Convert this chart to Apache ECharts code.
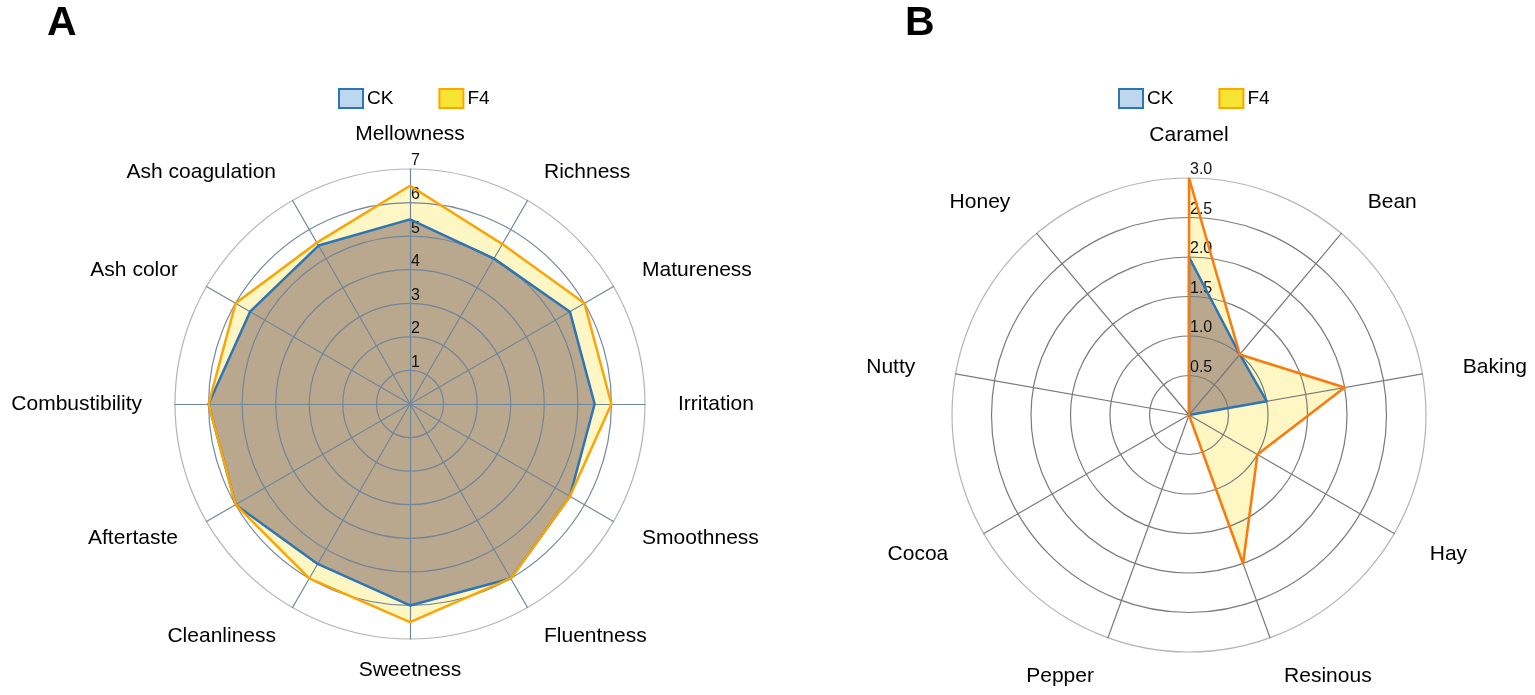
<!DOCTYPE html>
<html><head><meta charset="utf-8">
<script src="https://cdn.jsdelivr.net/npm/echarts@6/dist/echarts.min.js"></script>
<style>html,body{margin:0;padding:0;background:#fff}#c{width:1535px;height:695px}</style>
</head><body><div id="c"></div>
<script>
// ---- Data (clockwise order starting at the top) ----
const catsA = ['Mellowness','Richness','Matureness','Irritation','Smoothness','Fluentness','Sweetness','Cleanliness','Aftertaste','Combustibility','Ash color','Ash coagulation'];
const ckA = [5.5, 5.0, 5.5, 5.5, 5.5, 6.0, 6.0, 5.5, 6.0, 6.0, 5.5, 5.45];
const f4A = [6.5, 5.5, 6.0, 6.0, 5.5, 6.0, 6.5, 6.0, 6.0, 6.0, 6.0, 5.55];
const maxA = 7;
const catsB = ['Caramel','Bean','Baking','Hay','Resinous','Pepper','Cocoa','Nutty','Honey'];
const ckB = [2.0, 1.0, 1.0, 0, 0, 0, 0, 0, 0];
const f4B = [3.0, 1.0, 2.0, 1.0, 2.0, 0, 0, 0, 0];
const maxB = 3.0;
const seriesNames = ['CK', 'F4'];

// ECharts places indicators counter-clockwise; reorder to draw clockwise
function cw(arr) { return [arr[0]].concat(arr.slice(1).reverse()); }

const FONT = 'Liberation Sans, Arial, sans-serif';

function makeRadar(cats, max, step, center, radius, gap, gapOverrides, lineCol, fmt) {
  const n = Math.round(max / step);
  const cols = [];
  for (let i = 0; i <= n; i++) cols.push(i === n ? '#b4b4b4' : lineCol);
  return {
    center: center, radius: radius, startAngle: 90, shape: 'circle', splitNumber: n,
    z: 2,
    indicator: cw(cats).map((c, i) => {
      const o = { name: c, min: 0, max: max };
      if (i === 0) o.axisLabel = { show: true };
      if (gapOverrides[c] !== undefined) o.nameGap = gapOverrides[c];
      return o;
    }),
    nameGap: gap,
    axisName: { color: '#000', fontSize: 21, fontFamily: FONT },
    splitLine: { lineStyle: { color: cols, width: 1.2 } },
    splitArea: { show: false },
    axisLine: { lineStyle: { color: lineCol, width: 1.2 } },
    axisTick: { show: false },
    axisLabel: { show: false, color: '#111', fontSize: 16, fontFamily: FONT, margin: -1,
      align: 'left', verticalAlign: 'bottom', formatter: fmt }
  };
}

const fmtA = v => (v === 0 ? '' : String(v));
const fmtB = v => (v === 0 ? '' : Number(v).toFixed(1));

function fillSeries(ri, ck, f4) {
  return {
    type: 'radar', radarIndex: ri, z: 1, symbol: 'none', silent: true,
    data: [
      { name: 'F4', value: cw(f4), lineStyle: { width: 0, opacity: 0 }, areaStyle: { color: '#fef7c3', opacity: 1 } },
      { name: 'CK', value: cw(ck), lineStyle: { width: 0, opacity: 0 }, areaStyle: { color: '#b9a88d', opacity: 1 } }
    ]
  };
}
function lineSeries(ri, ck, f4, f4col) {
  return {
    type: 'radar', radarIndex: ri, z: 3, symbol: 'none', silent: true,
    data: [
      { name: 'CK', value: cw(ck), lineStyle: { width: 2.5, color: '#2e75b6' }, itemStyle: { color: '#2e75b6' } },
      { name: 'F4', value: cw(f4), lineStyle: { width: 2.5, color: f4col }, itemStyle: { color: f4col } }
    ]
  };
}

function legend(left) {
  return {
    left: left, top: 88, padding: 0, orient: 'horizontal', itemWidth: 24, itemHeight: 19, itemGap: 45,
    textStyle: { fontSize: 19, color: '#000', fontFamily: FONT, padding: [0, 0, 0, -1] },
    selectedMode: false,
    data: [
      { name: seriesNames[0], icon: 'rect', itemStyle: { color: '#bdd7ee', borderColor: '#2e75b6', borderWidth: 2 } },
      { name: seriesNames[1], icon: 'rect', itemStyle: { color: '#f7e331', borderColor: '#ffa500', borderWidth: 2 } }
    ]
  };
}

const chart = echarts.init(document.getElementById('c'), null, { renderer: 'canvas' });
chart.setOption({
  animation: false,
  backgroundColor: '#fff',
  title: [
    { text: 'A', left: 47, top: 3, padding: 0, textStyle: { fontSize: 41, fontWeight: 'bold', color: '#000', fontFamily: FONT } },
    { text: 'B', left: 905, top: 3, padding: 0, textStyle: { fontSize: 41, fontWeight: 'bold', color: '#000', fontFamily: FONT } }
  ],
  legend: [legend(338), legend(1118)],
  radar: [
    makeRadar(catsA, maxA, 1, [410, 404], 235, 33, { 'Mellowness': 24, 'Sweetness': 21 }, '#72869a', fmtA),
    makeRadar(catsB, maxB, 0.5, [1189, 415], 237, 41, { 'Caramel': 32 }, '#7a7a7a', fmtB)
  ],
  series: [
    fillSeries(0, ckA, f4A),
    fillSeries(1, ckB, f4B),
    lineSeries(0, ckA, f4A, '#fba504'),
    lineSeries(1, ckB, f4B, '#fa7a0a')
  ]
});
</script>
</body></html>
